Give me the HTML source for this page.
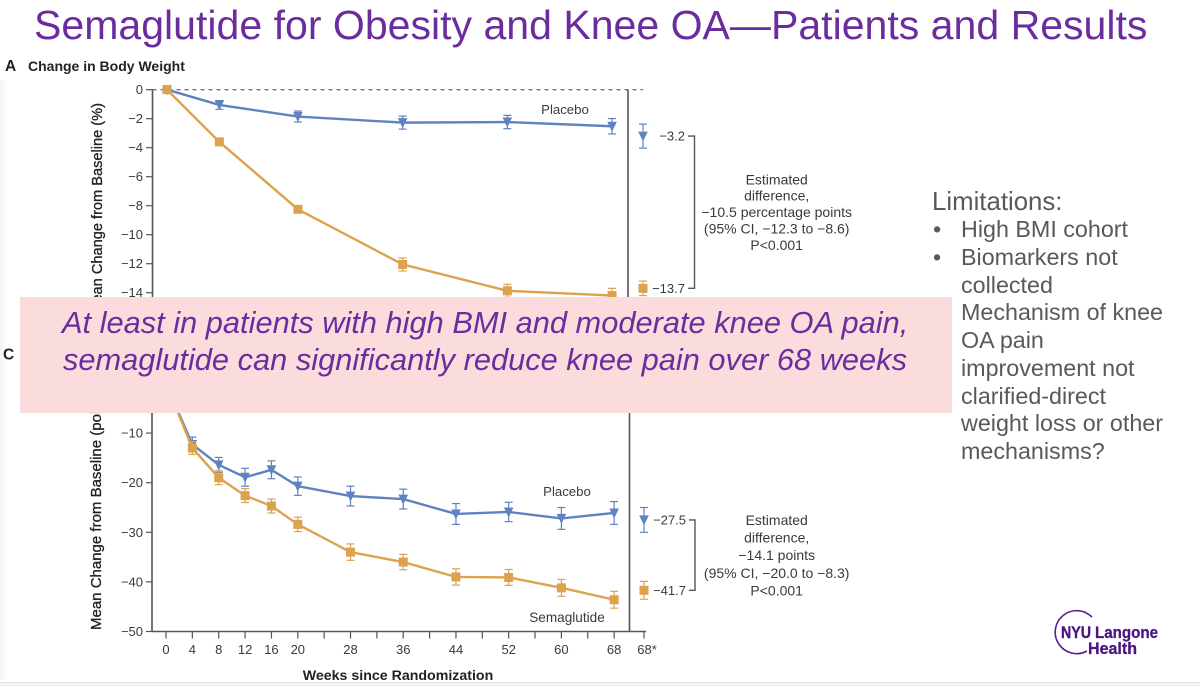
<!DOCTYPE html>
<html><head><meta charset="utf-8"><title>Semaglutide for Obesity and Knee OA</title>
<style>
html,body{margin:0;padding:0;background:#fff}
#slide{position:relative;width:1200px;height:687px;overflow:hidden;background:#fff;font-family:"Liberation Sans",sans-serif}
#slide div{position:absolute}
#chart{position:absolute;left:0;top:0}
#left-shade{left:0;top:80px;width:8px;height:600px;background:linear-gradient(to right,#f3f3f3,#fff)}
#title{left:34px;top:2px;font-size:41.05px;line-height:46px;color:#6b2d9e;white-space:nowrap}
#banner{left:20px;top:297px;width:932px;height:116px;background:#fadcdc}
.bl{font-size:30.8px;line-height:36px;font-style:italic;color:#6b2d9e;white-space:nowrap}
.lim{font-size:23.3px;line-height:27.7px;color:#595959;white-space:nowrap}
#bottom-band{left:0;top:682px;width:1200px;height:5px;background:#f3f3f3;border-top:1px solid #e4e4e4;box-sizing:border-box}
</style></head>
<body>
<div id="slide">
<div id="left-shade"></div>
<svg id="chart" width="1200" height="687" viewBox="0 0 1200 687"></svg>
<div id="title">Semaglutide for Obesity and Knee OA—Patients and Results</div>
<div id="banner"></div>
<div class="bl" style="left:62px;top:304.6px">At least in patients with high BMI and moderate knee OA pain,</div>
<div class="bl" style="left:63px;top:342.3px">semaglutide can significantly reduce knee pain over 68 weeks</div>
<div class="lim" style="left:932px;top:187.8px;font-size:25.8px;line-height:28px">Limitations:</div>
<div class="lim" style="left:933px;top:216px">•</div>
<div class="lim" style="left:961px;top:216px">High BMI cohort</div>
<div class="lim" style="left:933px;top:244px">•</div>
<div class="lim" style="left:961px;top:244px">Biomarkers not<br>collected<br>Mechanism of knee<br>OA pain<br>improvement not<br>clarified-direct<br>weight loss or other<br>mechanisms?</div>
<div id="bottom-band"></div>
<svg style="position:absolute;left:1040px;top:600px" width="140" height="70" viewBox="1040 600 140 70">
<path d="M1092 617 A21.5 21.5 0 1 0 1087 651" fill="none" stroke="#5a1f8f" stroke-width="1.6"/>
<text x="1061" y="638" font-family="Liberation Sans" font-weight="700" font-size="16.5" fill="#4b1583" stroke="#4b1583" stroke-width="0.4" textLength="30" lengthAdjust="spacingAndGlyphs">NYU</text>
<text x="1095" y="638" font-family="Liberation Sans" font-weight="700" font-size="16.5" fill="#4b1583" stroke="#4b1583" stroke-width="0.3" textLength="63" lengthAdjust="spacingAndGlyphs">Langone</text>
<text x="1088" y="654" font-family="Liberation Sans" font-weight="700" font-size="16.5" fill="#4b1583" stroke="#4b1583" stroke-width="0.3" textLength="49" lengthAdjust="spacingAndGlyphs">Health</text>
</svg>
</div>
<script>
/* Panel A: change in body weight (%) */
const weeksA = [0, 8, 20, 36, 52, 68];
const placeboA = [0, -1.05, -1.85, -2.27, -2.23, -2.52];
const placeboErrA = [0, 0.3, 0.38, 0.45, 0.46, 0.53];
const semaA = [0, -3.6, -8.25, -12.05, -13.87, -14.2];
const semaErrA = [0, 0.2, 0.25, 0.45, 0.45, 0.5];
const adjA = [-3.2, -13.7];
const adjErrA = [0.83, 0.5];
const yTicksA = [0, -2, -4, -6, -8, -10, -12, -14, -16];

/* Panel C: change in WOMAC pain (points) */
const weeksC = [0, 4, 8, 12, 16, 20, 28, 36, 44, 52, 60, 68];
const placeboC = [0, -12.3, -16.4, -18.9, -17.4, -20.7, -22.7, -23.3, -26.3, -25.9, -27.2, -26.1];
const placeboErrC = [0, 1.5, 1.5, 1.8, 1.8, 1.85, 2, 2, 2.1, 1.95, 2.2, 2.3];
const semaC = [0, -13, -19, -22.6, -24.7, -28.4, -34, -36, -39, -39.1, -41.2, -43.6];
const semaErrC = [0, 1.3, 1.4, 1.4, 1.4, 1.45, 1.65, 1.55, 1.65, 1.6, 1.7, 1.7];
const adjC = [-27.5, -41.7];
const adjErrC = [2.5, 1.8];
const yTicksC = [0, -10, -20, -30, -40, -50];
const xLabelsC = [0, 4, 8, 12, 16, 20, 28, 36, 44, 52, 60, 68];
const xMinorC = [24, 32, 40, 48, 56, 64];

const BLUE = '#5f83c0', ORANGE = '#dda24e', AXIS = '#555', TXT = '#3a3a3a';
const svg = document.getElementById('chart');
const NS = 'http://www.w3.org/2000/svg';
const xA = w => 167 + 6.545 * w;
const yA = v => 89.7 - 14.5 * v;
const xC = w => 166 + 6.59 * w;
const yC = v => 383.5 - 4.96 * v;
const starA = 643, starC = 644;

function mk(tag, attrs, name) {
  const e = document.createElementNS(NS, tag);
  for (const k in attrs) e.setAttribute(k, attrs[k]);
  
  
  svg.appendChild(e);
  return e;
}
function line(a, b, c, d, col, w, name, dash) {
  const at = {x1: a, y1: b, x2: c, y2: d, stroke: col, 'stroke-width': w};
  if (dash) at['stroke-dasharray'] = dash;
  return mk('line', at, name);
}
function txt(s, x, y, size, anchor, name, extra) {
  const e = mk('text', Object.assign({x: x, y: y, 'font-size': size, 'text-anchor': anchor, fill: TXT, 'font-family': '"Liberation Sans",sans-serif'}, extra || {}), name);
  e.textContent = s;
  return e;
}
function fmt(v) { return v < 0 ? '\u2212' + Math.abs(v) : String(v); }
function marker(kind, x, y, col, name) {
  if (kind === 'tri') {
    mk('polygon', {points: (x - 4.8) + ',' + (y - 4.5) + ' ' + (x + 4.8) + ',' + (y - 4.5) + ' ' + x + ',' + (y + 5.5), fill: col}, name);
  } else {
    mk('rect', {x: x - 4.5, y: y - 4.5, width: 9, height: 9, fill: col}, name);
  }
}
function errBar(x, yTop, yBot, col, name) {
  line(x, yTop, x, yBot, col, 1.2, name + '-stem');
  line(x - 4, yTop, x + 4, yTop, col, 1.2, name + '-cap-top');
  line(x - 4, yBot, x + 4, yBot, col, 1.2, name + '-cap-bottom');
}
function series(weeks, vals, errs, fx, fy, col, kind, name) {
  const pts = weeks.map((w, i) => fx(w) + ',' + fy(vals[i])).join(' ');
  mk('polyline', {points: pts, fill: 'none', stroke: col, 'stroke-width': 2.4}, name + '-line');
  weeks.forEach((w, i) => {
    if (errs[i] > 0) errBar(fx(w), fy(vals[i] + errs[i]), fy(vals[i] - errs[i]), col, name + '-error-week-' + w);
    marker(kind, fx(w), fy(vals[i]), col, name + '-point-week-' + w);
  });
}

/* Panel A */
txt('A', 5, 71, 15.5, 'start', 'panel-a-letter', {'font-weight': 700, fill: '#222'});
txt('Change in Body Weight', 28, 71, 14, 'start', 'panel-a-title', {'font-weight': 700, fill: '#222'});
line(152.5, yA(0), 152.5, 300, AXIS, 1.6, 'panel-a-y-axis');
line(152.5, yA(0), starA, yA(0), '#444', 1, 'panel-a-zero-line', '4 4');
line(628, yA(0), 628, 300, AXIS, 1.6, 'panel-a-divider');
yTicksA.forEach(v => {
  line(146, yA(v), 152.5, yA(v), AXIS, 1.2, 'panel-a-y-tick');
  txt(fmt(v), 143, yA(v) + 4.5, 13, 'end', 'panel-a-y-label');
});
txt('Mean Change from Baseline (%)', 0, 0, 14.6, 'end', 'panel-a-y-axis-title', {transform: 'translate(102,103) rotate(-90)', fill: '#222', stroke: '#222', 'stroke-width': 0.3});
series(weeksA, placeboA, placeboErrA, xA, yA, BLUE, 'tri', 'panel-a-placebo');
series(weeksA, semaA, semaErrA, xA, yA, ORANGE, 'sq', 'panel-a-semaglutide');
errBar(starA, yA(adjA[0] + adjErrA[0]), yA(adjA[0] - adjErrA[0]), BLUE, 'panel-a-adjusted-placebo-error');
marker('tri', starA, yA(adjA[0]), BLUE, 'panel-a-adjusted-placebo');
errBar(starA, yA(adjA[1] + adjErrA[1]), yA(adjA[1] - adjErrA[1]), ORANGE, 'panel-a-adjusted-semaglutide-error');
marker('sq', starA, yA(adjA[1]), ORANGE, 'panel-a-adjusted-semaglutide');
txt(fmt(adjA[0]), 685, yA(adjA[0]) + 4.5, 13, 'end', 'panel-a-placebo-value');
txt(fmt(adjA[1]), 685, yA(adjA[1]) + 4.5, 13, 'end', 'panel-a-semaglutide-value');
mk('polyline', {points: '688,' + yA(adjA[0]) + ' 694.5,' + yA(adjA[0]) + ' 694.5,' + yA(adjA[1]) + ' 688,' + yA(adjA[1]), fill: 'none', stroke: AXIS, 'stroke-width': 1.4}, 'panel-a-bracket');
txt('Placebo', 565, 114, 13.2, 'middle', 'panel-a-placebo-label');
['Estimated', 'difference,', '\u221210.5 percentage points', '(95% CI, \u221212.3 to \u22128.6)', 'P<0.001'].forEach((s, i) => {
  txt(s, 776.7, 184.3 + i * 16.4, 14, 'middle', 'panel-a-difference-text');
});

/* Panel C */
txt('C', 3, 359.5, 15.5, 'start', 'panel-c-letter', {'font-weight': 700, fill: '#222'});
line(152, 340, 152, 631.5, AXIS, 1.6, 'panel-c-y-axis');
line(152, 631.5, 646, 631.5, AXIS, 1.6, 'panel-c-x-axis');
line(629.5, 340, 629.5, 631.5, AXIS, 1.6, 'panel-c-divider');
yTicksC.forEach(v => {
  line(146, yC(v), 152, yC(v), AXIS, 1.2, 'panel-c-y-tick');
  txt(fmt(v), 143, yC(v) + 4.5, 13, 'end', 'panel-c-y-label');
});
xLabelsC.forEach(w => {
  line(xC(w), 631.5, xC(w), 638.5, AXIS, 1.2, 'panel-c-x-tick');
  txt(String(w), xC(w), 654, 13, 'middle', 'panel-c-x-label');
});
xMinorC.forEach(w => {
  line(xC(w), 631.5, xC(w), 638.5, AXIS, 1.2, 'panel-c-x-minor-tick');
});
line(starC, 631.5, starC, 638.5, AXIS, 1.2, 'panel-c-x-tick-adjusted');
txt('68*', starC + 3, 654, 13, 'middle', 'panel-c-x-label-adjusted');
txt('Mean Change from Baseline (points)', 0, 0, 15, 'start', 'panel-c-y-axis-title', {transform: 'translate(101,630) rotate(-90)', fill: '#222', stroke: '#222', 'stroke-width': 0.3});
txt('Weeks since Randomization', 398, 680, 14.2, 'middle', 'panel-c-x-axis-title', {'font-weight': 700, fill: '#222'});
series(weeksC, placeboC, placeboErrC, xC, yC, BLUE, 'tri', 'panel-c-placebo');
series(weeksC, semaC, semaErrC, xC, yC, ORANGE, 'sq', 'panel-c-semaglutide');
errBar(starC, yC(adjC[0] + adjErrC[0]), yC(adjC[0] - adjErrC[0]), BLUE, 'panel-c-adjusted-placebo-error');
marker('tri', starC, yC(adjC[0]), BLUE, 'panel-c-adjusted-placebo');
errBar(starC, yC(adjC[1] + adjErrC[1]), yC(adjC[1] - adjErrC[1]), ORANGE, 'panel-c-adjusted-semaglutide-error');
marker('sq', starC, yC(adjC[1]), ORANGE, 'panel-c-adjusted-semaglutide');
txt(fmt(adjC[0]), 686, yC(adjC[0]) + 4.5, 13, 'end', 'panel-c-placebo-value');
txt(fmt(adjC[1]), 686, yC(adjC[1]) + 4.5, 13, 'end', 'panel-c-semaglutide-value');
mk('polyline', {points: '689,' + yC(adjC[0]) + ' 695,' + yC(adjC[0]) + ' 695,' + yC(adjC[1]) + ' 689,' + yC(adjC[1]), fill: 'none', stroke: AXIS, 'stroke-width': 1.4}, 'panel-c-bracket');
txt('Placebo', 567, 496, 13.2, 'middle', 'panel-c-placebo-label');
txt('Semaglutide', 567, 622, 13.6, 'middle', 'panel-c-semaglutide-label');
['Estimated', 'difference,', '\u221214.1 points', '(95% CI, \u221220.0 to \u22128.3)', 'P<0.001'].forEach((s, i) => {
  txt(s, 776.7, 525 + i * 17.6, 14, 'middle', 'panel-c-difference-text');
});
</script>
</body></html>
